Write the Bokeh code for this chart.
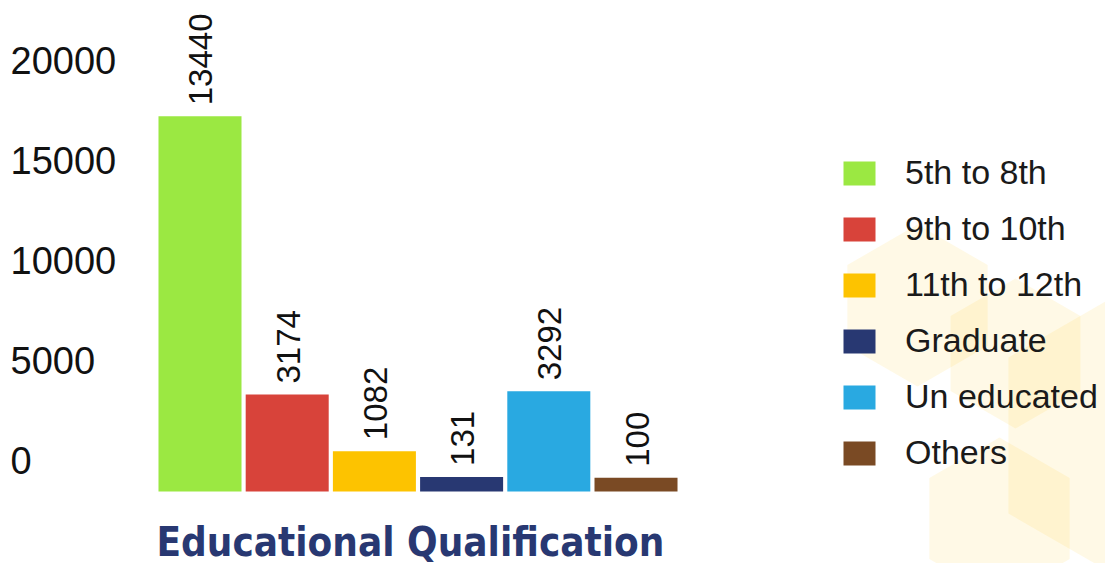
import numpy as np
from bokeh.plotting import figure
from bokeh.models import ColumnDataSource, Range1d
from bokeh.core.properties import value
from bokeh.embed import file_html
from bokeh.resources import INLINE

# ---- data ----
categories = ["5th to 8th", "9th to 10th", "11th to 12th", "Graduate", "Un educated", "Others"]
counts = [13440, 3174, 1082, 131, 3292, 100]
colors = ["#9BE842", "#D8433A", "#FDC300", "#283872", "#29A9E1", "#7A4A24"]
axis_ticks = [0, 5000, 10000, 15000, 20000]
axis_tick_labels = ["0", "5000", "10000", "15000", "20000"]
title_text = "Educational Qualification"

# decorative background hexagons (page pixel space): centre x, centre y, radius
hex_cx = [917, 1015, 1143, 999]
hex_cy = [305, 353, 435, 518]
hex_r = [81, 75, 156, 81]

W, H = 1105, 563
FONT = "Liberation Sans"
TITLE_FONT = "'DejaVu Sans Condensed', 'Liberation Sans'"

p = figure(width=W, height=H, output_backend="svg", toolbar_location=None,
           x_range=Range1d(-2.2878, 10.384), y_range=Range1d(-3063, 17712),
           x_axis_location=None, y_axis_location=None, min_border=0,
           background_fill_color="white", border_fill_color="white")
p.grid.visible = False
p.outline_line_color = None
p.extra_x_ranges = {"px": Range1d(0, W)}
p.extra_y_ranges = {"px": Range1d(H, 0), "ticks": Range1d(-5150, 22999)}

# background hexagons
ang = np.deg2rad([90, 30, -30, -90, -150, 150])
hx = [list(cx + r * np.cos(ang)) for cx, r in zip(hex_cx, hex_r)]
hy = [list(cy - r * np.sin(ang)) for cy, r in zip(hex_cy, hex_r)]
p.patches(hx, hy, x_range_name="px", y_range_name="px",
          fill_color="#FFC107", fill_alpha=0.1, line_color=None)

src = ColumnDataSource(dict(
    x=list(range(len(categories))),
    top=counts,
    label=categories,
    color=colors,
    txt=[str(c) for c in counts],
))

p.vbar(x="x", top="top", bottom=-406, width=0.952, fill_color="color",
       line_color=None, legend_field="label", source=src)

# value labels
p.text(x="x", y="top", text="txt", source=src, angle=np.pi / 2,
       text_align="left", text_baseline="middle", x_offset=1, y_offset=-11,
       text_font=value(FONT), text_font_size="33px", text_color="#111111")

# left tick labels
tick_src = ColumnDataSource(dict(y=axis_ticks, t=axis_tick_labels, x=[10] * len(axis_ticks)))
p.text(x="x", y="y", text="t", source=tick_src, x_range_name="px", y_range_name="ticks",
       text_align="left", text_baseline="middle",
       text_font=value(FONT), text_font_size="38px", text_color="#111111")

# title
p.text(x=[156], y=[541], text=[title_text], x_range_name="px", y_range_name="px",
       text_align="left", text_baseline="middle",
       text_font=value(TITLE_FONT), text_font_style="bold",
       text_font_size="40px", text_color="#283872")

lg = p.legend[0]
lg.location = (839, 91)
lg.glyph_width = 40
lg.glyph_height = 30
lg.label_standoff = 26
lg.spacing = 17
lg.padding = 0
lg.margin = 0
lg.border_line_color = None
lg.background_fill_alpha = 0
lg.label_text_font = FONT
lg.label_text_font_size = "34px"
lg.label_text_color = "#1a1a1a"

open("out.html", "w").write(file_html(p, INLINE))
